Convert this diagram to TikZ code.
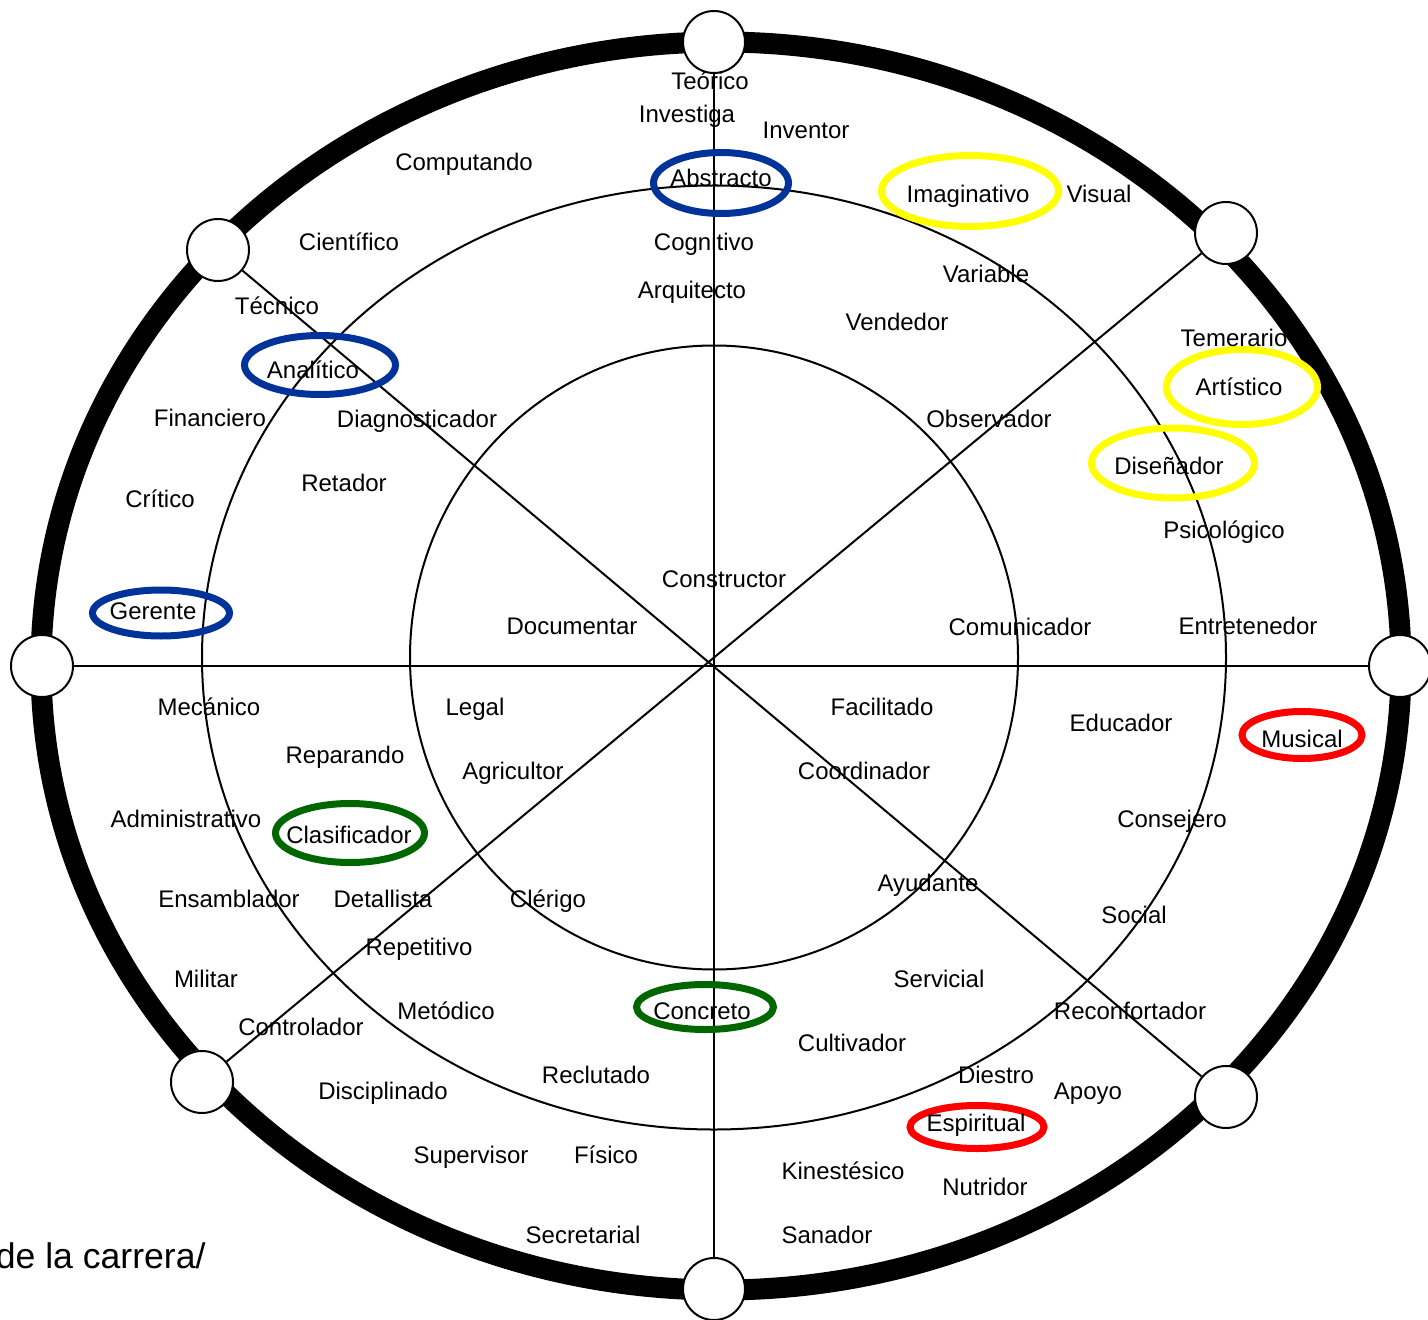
\documentclass[tikz,border=0pt]{standalone}
\usepackage{fontspec}
\setmainfont{Liberation Sans}
\definecolor{ringblue}{RGB}{0,51,153}
\definecolor{ringyellow}{RGB}{255,255,0}
\definecolor{ringred}{RGB}{255,0,0}
\definecolor{ringgreen}{RGB}{0,102,0}
\begin{document}
\begin{tikzpicture}[x=0.5pt, y=-0.5pt,
  lbl/.style={font=\fontsize{12pt}{14pt}\selectfont, inner sep=0pt, text height=8.6pt, text depth=0pt},
  joint/.style={circle, draw, fill=white, line width=1pt, minimum size=31pt, inner sep=0pt},
  spoke/.style={line width=1pt},
  orbit/.style={line width=1pt},
  mark ring/.style={line width=3.5pt, draw=#1}]
\useasboundingbox (0,0) rectangle (1428,1320);
\clip (0,0) rectangle (1428,1320);

% outer thick ring and the two thin orbits
\draw[line width=10.5pt] (721,666) ellipse [x radius=680, y radius=624];
\draw[orbit] (714,657.5) ellipse [x radius=512, y radius=472];
\draw[orbit] (714,657.5) ellipse [x radius=304, y radius=312];

% joints on the outer ring
\node[joint] (t)  at (714,42)   {};
\node[joint] (tr) at (1226,233) {};
\node[joint] (r)  at (1400,666) {};
\node[joint] (br) at (1226,1097) {};
\node[joint] (b)  at (714,1289) {};
\node[joint] (bl) at (202,1082) {};
\node[joint] (l)  at (42,666)   {};
\node[joint] (tl) at (218,250)  {};

% spokes between opposite joints
\draw[spoke] (t) -- (b);
\draw[spoke] (l) -- (r);
\draw[spoke] (tl) -- (br);
\draw[spoke] (tr) -- (bl);

% highlighted profiles
\draw[mark ring=ringblue]   (721,183)  ellipse [x radius=67.5, y radius=30.5];
\draw[mark ring=ringblue]   (320,365)  ellipse [x radius=75.5, y radius=29.5];
\draw[mark ring=ringblue]   (161,613)  ellipse [x radius=68.5, y radius=23];
\draw[mark ring=ringyellow] (970,191)  ellipse [x radius=88.5, y radius=35.5];
\draw[mark ring=ringyellow] (1242,387) ellipse [x radius=75.5, y radius=37.5];
\draw[mark ring=ringyellow] (1173,463) ellipse [x radius=81.5, y radius=35];
\draw[mark ring=ringred]    (1302,735) ellipse [x radius=60, y radius=23.5];
\draw[mark ring=ringred]    (977,1127) ellipse [x radius=67, y radius=21.5];
\draw[mark ring=ringgreen]  (350,833)  ellipse [x radius=74.5, y radius=29.5];
\draw[mark ring=ringgreen]  (705,1007) ellipse [x radius=68.5, y radius=22.5];

% labels
\node[lbl] (teorico) at (710,81) {Teórico};
\node[lbl] (investiga) at (687,114) {Investiga};
\node[lbl] (inventor) at (806,130) {Inventor};
\node[lbl] (computando) at (464,162) {Computando};
\node[lbl] (abstracto) at (721,178) {Abstracto};
\node[lbl] (imaginativo) at (968,194) {Imaginativo};
\node[lbl] (visual) at (1099,194) {Visual};
\node[lbl] (cientifico) at (349,242) {Científico};
\node[lbl] (cognitivo) at (704,242) {Cognitivo};
\node[lbl] (variable) at (986,274) {Variable};
\node[lbl] (arquitecto) at (692,290) {Arquitecto};
\node[lbl] (tecnico) at (277,306) {Técnico};
\node[lbl] (vendedor) at (897,322) {Vendedor};
\node[lbl] (temerario) at (1234,338) {Temerario};
\node[lbl] (analitico) at (313,370) {Analítico};
\node[lbl] (artistico) at (1239,387) {Artístico};
\node[lbl] (financiero) at (210,418) {Financiero};
\node[lbl] (diagnosticador) at (417,419) {Diagnosticador};
\node[lbl] (observador) at (989,419) {Observador};
\node[lbl] (disenador) at (1169,466) {Diseñador};
\node[lbl] (retador) at (344,483) {Retador};
\node[lbl] (critico) at (160,499) {Crítico};
\node[lbl] (psicologico) at (1224,530) {Psicológico};
\node[lbl] (constructor) at (724,579) {Constructor};
\node[lbl] (gerente) at (153,611) {Gerente};
\node[lbl] (documentar) at (572,626) {Documentar};
\node[lbl] (comunicador) at (1020,627) {Comunicador};
\node[lbl] (entretenedor) at (1248,626) {Entretenedor};
\node[lbl] (mecanico) at (209,707) {Mecánico};
\node[lbl] (legal) at (475,707) {Legal};
\node[lbl] (facilitado) at (882,707) {Facilitado};
\node[lbl] (educador) at (1121,723) {Educador};
\node[lbl] (musical) at (1302,739) {Musical};
\node[lbl] (reparando) at (345,755) {Reparando};
\node[lbl] (agricultor) at (513,771) {Agricultor};
\node[lbl] (coordinador) at (864,771) {Coordinador};
\node[lbl] (administrativo) at (186,819) {Administrativo};
\node[lbl] (consejero) at (1172,819) {Consejero};
\node[lbl] (clasificador) at (349,835) {Clasificador};
\node[lbl] (ayudante) at (928,883) {Ayudante};
\node[lbl] (ensamblador) at (229,899) {Ensamblador};
\node[lbl] (detallista) at (383,899) {Detallista};
\node[lbl] (clerigo) at (548,899) {Clérigo};
\node[lbl] (social) at (1134,915) {Social};
\node[lbl] (repetitivo) at (419,947) {Repetitivo};
\node[lbl] (militar) at (206,979) {Militar};
\node[lbl] (servicial) at (939,979) {Servicial};
\node[lbl] (metodico) at (446,1011) {Metódico};
\node[lbl] (concreto) at (702,1011) {Concreto};
\node[lbl] (reconfortador) at (1130,1011) {Reconfortador};
\node[lbl] (controlador) at (301,1027) {Controlador};
\node[lbl] (cultivador) at (852,1043) {Cultivador};
\node[lbl] (reclutado) at (596,1075) {Reclutado};
\node[lbl] (diestro) at (996,1075) {Diestro};
\node[lbl] (disciplinado) at (383,1091) {Disciplinado};
\node[lbl] (apoyo) at (1088,1091) {Apoyo};
\node[lbl] (espiritual) at (976,1123) {Espiritual};
\node[lbl] (supervisor) at (471,1155) {Supervisor};
\node[lbl] (fisico) at (606,1155) {Físico};
\node[lbl] (kinestesico) at (843,1171) {Kinestésico};
\node[lbl] (nutridor) at (985,1187) {Nutridor};
\node[lbl] (secretarial) at (583,1235) {Secretarial};
\node[lbl] (sanador) at (827,1235) {Sanador};

% caption fragment, running off the left edge
\node[font=\fontsize{17.8pt}{20pt}\selectfont, inner sep=0pt, anchor=base east] (caption) at (206,1268) {de la carrera/};
\end{tikzpicture}
\end{document}
